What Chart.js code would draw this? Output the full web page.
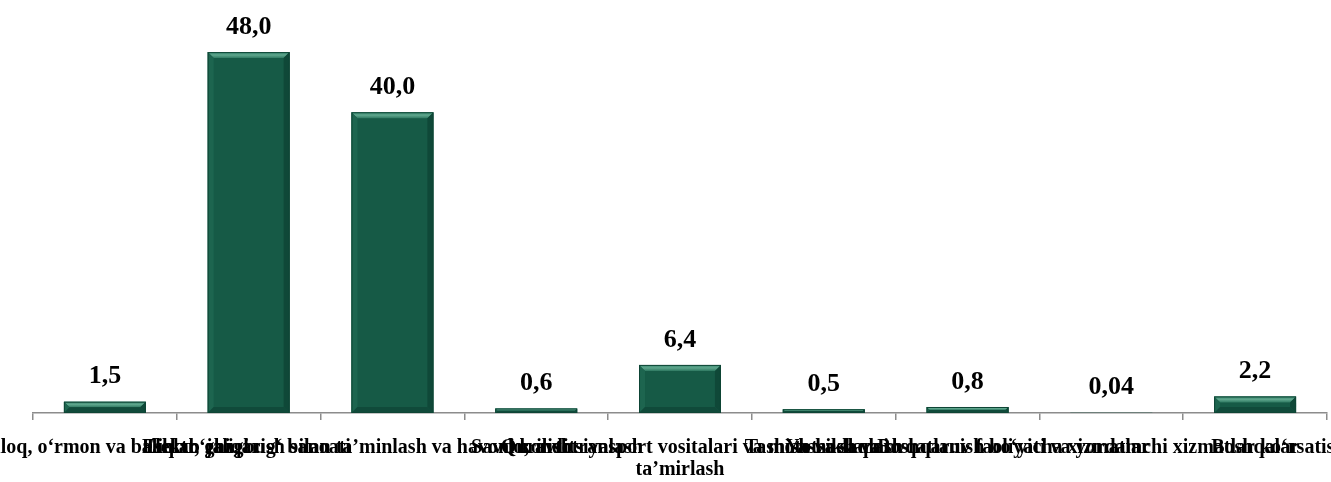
<!DOCTYPE html>
<html>
<head>
<meta charset="utf-8">
<script src="https://cdn.jsdelivr.net/npm/chart.js@4.4.1/dist/chart.umd.min.js"></script>
<style>
  html, body { margin: 0; padding: 0; background: #ffffff; }
  #wrap { width: 1331px; height: 482px; position: relative; }
</style>
</head>
<body>
<div id="wrap"><canvas id="c"></canvas></div>
<script>
const categories = [
  "Qishloq, o‘rmon va baliq xo‘jaligi",
  "Ishlab chiqarish sanoati",
  "Elektr, gaz, bug‘ bilan ta’minlash va havoni konditsiyalash",
  "Qurilish",
  ["Savdo; avtotransport vositalari va mototsikllarni", "ta’mirlash"],
  "Tashish va saqlash",
  "Yashash va ovqatlanish bo‘yicha xizmatlar",
  "Boshqaruv faoliyati va yordamchi xizmatlar ko‘rsatish",
  "Boshqalar"
];
const values = [1.5, 48.0, 40.0, 0.6, 6.4, 0.5, 0.8, 0.04, 2.2];
const valueLabels = ["1,5", "48,0", "40,0", "0,6", "6,4", "0,5", "0,8", "0,04", "2,2"];

const bevelPlugin = {
  id: 'bevel',
  afterDatasetsDraw(chart) {
    const ctx = chart.ctx;
    const meta = chart.getDatasetMeta(0);
    meta.data.forEach((bar) => {
      const p = bar.getProps(['x', 'y', 'base', 'width'], true);
      const l = p.x - p.width / 2, r = p.x + p.width / 2;
      const t = Math.min(p.y, p.base), b = Math.max(p.y, p.base);
      const h = b - t;
      if (h < 0.5) return;
      const s = Math.min(6, h / 2, p.width / 2);
      ctx.save();
      let g = ctx.createLinearGradient(0, t, 0, t + s);
      g.addColorStop(0, '#3a8a70');
      g.addColorStop(0.5, '#5ea58c');
      g.addColorStop(1, '#2f7a62');
      ctx.fillStyle = g;
      ctx.beginPath();
      ctx.moveTo(l, t); ctx.lineTo(r, t); ctx.lineTo(r - s, t + s); ctx.lineTo(l + s, t + s); ctx.closePath();
      ctx.fill();
      ctx.fillStyle = '#1d654f';
      ctx.beginPath();
      ctx.moveTo(l, t); ctx.lineTo(l + s, t + s); ctx.lineTo(l + s, b - s); ctx.lineTo(l, b); ctx.closePath();
      ctx.fill();
      ctx.fillStyle = '#0f4838';
      ctx.beginPath();
      ctx.moveTo(r, t); ctx.lineTo(r - s, t + s); ctx.lineTo(r - s, b - s); ctx.lineTo(r, b); ctx.closePath();
      ctx.fill();
      ctx.fillStyle = '#104a3a';
      ctx.beginPath();
      ctx.moveTo(l, b); ctx.lineTo(l + s, b - s); ctx.lineTo(r - s, b - s); ctx.lineTo(r, b); ctx.closePath();
      ctx.fill();
      ctx.strokeStyle = '#0e4535';
      ctx.lineWidth = 1;
      ctx.strokeRect(l + 0.5, t + 0.5, p.width - 1, h - 1);
      ctx.restore();
    });
  }
};

const valueLabelPlugin = {
  id: 'valueLabels',
  afterDatasetsDraw(chart) {
    const ctx = chart.ctx;
    const meta = chart.getDatasetMeta(0);
    ctx.save();
    ctx.font = 'bold 26px "Liberation Serif", "Times New Roman", serif';
    ctx.fillStyle = '#000000';
    ctx.textAlign = 'center';
    ctx.textBaseline = 'middle';
    meta.data.forEach((bar, i) => {
      ctx.fillText(valueLabels[i], bar.x, bar.y - 25);
    });
    ctx.restore();
  }
};

new Chart(document.getElementById('c'), {
  type: 'bar',
  data: {
    labels: categories,
    datasets: [{
      data: values,
      backgroundColor: '#165a46',
      borderWidth: 0,
      barPercentage: 0.57,
      categoryPercentage: 1.0
    }]
  },
  options: {
    responsive: true,
    maintainAspectRatio: false,
    animation: false,
    devicePixelRatio: 1,
    layout: { padding: { left: 33, right: 4, top: 7, bottom: 0 } },
    plugins: { legend: { display: false }, tooltip: { enabled: false } },
    scales: {
      x: {
        offset: true,
        grid: {
          offset: true,
          drawOnChartArea: false,
          drawTicks: true,
          tickLength: 7,
          color: '#8c8c8c',
          lineWidth: 1.5
        },
        border: { display: true, color: '#8c8c8c', width: 1.5 },
        ticks: {
          autoSkip: false,
          maxRotation: 0,
          minRotation: 0,
          padding: 17,
          color: '#000000',
          font: { family: '"Liberation Serif", "Times New Roman", serif', size: 20, weight: 'bold', lineHeight: 1.1 }
        },
        afterFit(scale) { scale.paddingLeft = 0; scale.paddingRight = 0; scale.height = 69; }
      },
      y: {
        display: false,
        min: 0,
        max: 54
      }
    }
  },
  plugins: [bevelPlugin, valueLabelPlugin]
});
</script>
</body>
</html>
